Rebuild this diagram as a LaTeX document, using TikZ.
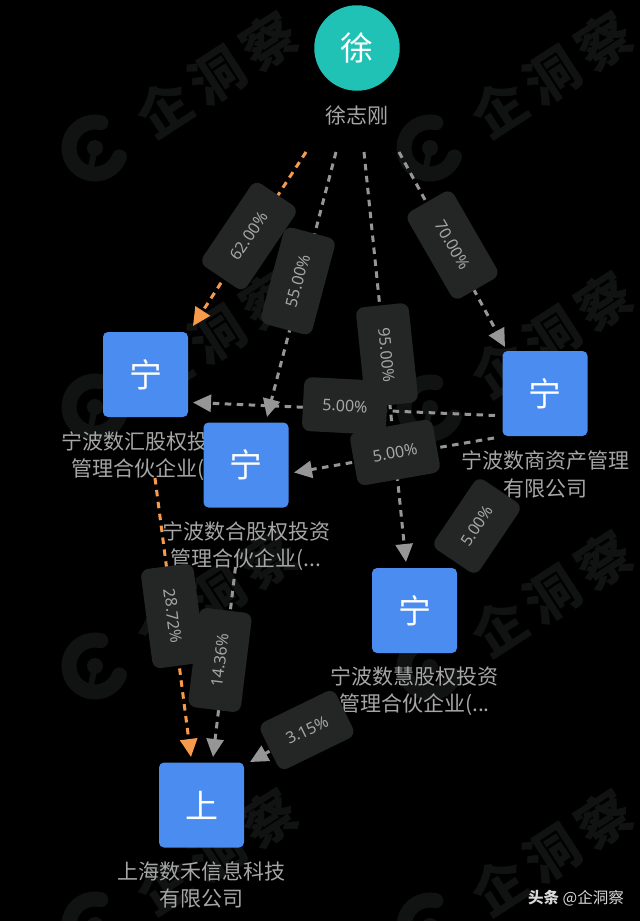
\documentclass[tikz,border=0pt]{standalone}
\usepackage{fontspec}
\usetikzlibrary{arrows.meta}
\setmainfont{Noto Sans CJK SC}
\newfontfamily\latinlabel{Noto Sans}
\definecolor{wmcol}{HTML}{111313}
\definecolor{boxblue}{HTML}{4B8CF0}
\definecolor{personteal}{HTML}{1FC2B5}
\definecolor{tagfill}{HTML}{242525}
\definecolor{edgegray}{HTML}{969696}
\definecolor{edgeorange}{HTML}{F79A4B}
\definecolor{textgray}{HTML}{A6A6A6}
\tikzset{
  companybox/.style={rectangle,rounded corners=5pt,fill=boxblue,text=white,minimum size=85pt,inner sep=0pt,font=\fontsize{33}{33}\selectfont},
  personbox/.style={circle,fill=personteal,text=white,minimum size=85.5pt,inner sep=0pt,font=\fontsize{33}{33}\selectfont},
  caption/.style={text=textgray,inner sep=0pt,font=\fontsize{21}{21}\selectfont},
  tag/.style={rectangle,rounded corners=8pt,fill=tagfill,text=textgray,minimum width=100pt,minimum height=53pt,inner sep=0pt,font=\latinlabel\fontsize{16}{16}\selectfont},
  tagshort/.style={tag,minimum width=84pt,minimum height=54pt},
  edgeline/.style={line width=3pt,dash pattern=on 6.5pt off 5.5pt,-{Triangle[length=18pt,width=17pt]}},
  grayedge/.style={edgeline,draw=edgegray,edgegray},
  orangeedge/.style={edgeline,draw=edgeorange,edgeorange},
  wmtext/.style={text=wmcol,inner sep=0pt,rotate=33,font=\bfseries\fontsize{54}{54}\selectfont},
}
\begin{document}
\begin{tikzpicture}[x=1pt,y=-1pt]
\path[use as bounding box,fill=black] (0,0) rectangle (640,921);
% watermarks
\foreach \i/\wx/\wy in {1/95/148,2/430/148,3/95/407,4/430/408,5/95/666,6/430/667,7/95/925,8/430/926}{
  \begin{scope}[shift={(\wx,\wy)},y=1pt]
    \draw[wmcol,line width=15pt,line cap=round] (77:26) arc[start angle=77,delta angle=263,radius=26];
    \fill[wmcol] (0,0) circle[radius=8];
    \draw[wmcol,line width=6pt,line cap=round] (0,0) -- (-5,-24);
    \node[wmtext] (wm\i) at (122,73) {企\hspace{8pt}洞\hspace{8pt}察};
  \end{scope}
}
% captions under the nodes (covered where the boxes overlap them)
\node[caption,anchor=west] (capA1) at (61,441.5) {宁波数汇股权投};
\node[caption,anchor=west] (capA2) at (71.5,469.5) {管理合伙企业(};
% main nodes
\node[personbox] (xu) at (357,48) {徐};
\node[companybox] (hui) at (145.5,374.5) {宁};
\node[companybox] (he) at (246,465) {宁};
\node[companybox] (shang) at (545,393.5) {宁};
\node[companybox] (huis) at (414.5,610.5) {宁};
\node[companybox] (sh) at (201.5,805) {上};
\node[caption] (capXu) at (357,115.5) {徐志刚};
\node[caption] (capB1) at (246,532) {宁波数合股权投资};
\node[caption] (capB2) at (246,560) {管理合伙企业(...};
\node[caption] (capC1) at (545,461) {宁波数商资产管理};
\node[caption] (capC2) at (545,489) {有限公司};
\node[caption] (capD1) at (414.5,677) {宁波数慧股权投资};
\node[caption] (capD2) at (414.5,705) {管理合伙企业(...};
\node[caption] (capE1) at (201.5,871) {上海数禾信息科技};
\node[caption] (capE2) at (201.5,899) {有限公司};
% connectors
\draw[orangeedge] ([shift={(-51,104)}]xu.center) -- ([shift={(47.5,-48.5)}]hui.center);
\draw[grayedge] ([shift={(-21,104)}]xu.center) -- ([shift={(21,-48)}]he.center);
\draw[grayedge] ([shift={(7,104)}]xu.center) -- ([shift={(-8.5,-48.5)}]huis.center);
\draw[grayedge] ([shift={(42,104)}]xu.center) -- ([shift={(-40,-46.5)}]shang.center);
\draw[grayedge] ([shift={(-50,22)}]shang.center) -- ([shift={(47.5,28)}]hui.center);
\draw[grayedge] ([shift={(-51,44.5)}]shang.center) -- ([shift={(48,7.5)}]he.center);
\draw[orangeedge] ([shift={(9.5,103.5)}]hui.center) -- ([shift={(-10.5,-48)}]sh.center);
\draw[grayedge] ([shift={(-10.5,102)}]he.center) -- ([shift={(11.5,-48)}]sh.center);
\draw[grayedge] ([shift={(-92.5,111.5)}]huis.center) -- ([shift={(48.5,-43)}]sh.center);
% percentage tags
\node[tag,rotate=56] (t62) at (249,236) {62.00\%};
\node[tag,rotate=75] (t55) at (298,281) {55.00\%};
\node[tag,rotate=-60] (t70) at (452.5,245) {70.00\%};
\node[tag,rotate=-84] (t95) at (387,355) {95.00\%};
\node[tagshort,rotate=-3] (t5a) at (345,406) {5.00\%};
\node[tagshort,rotate=10] (t5b) at (395,452.5) {5.00\%};
\node[tagshort,rotate=56] (t5c) at (477,526) {5.00\%};
\node[tag,rotate=-82.5] (t28) at (173,616) {28.72\%};
\node[tag,rotate=83] (t14) at (220,660) {14.36\%};
\node[tagshort,rotate=26,minimum height=52pt] (t3) at (307,730) {3.15\%};
% credit
\node[text=white!85!black,inner sep=0pt,anchor=east,font=\fontsize{15.5}{15.5}\selectfont] (credit) at (624,898) {\textbf{头条} @企洞察};
\end{tikzpicture}
\end{document}
